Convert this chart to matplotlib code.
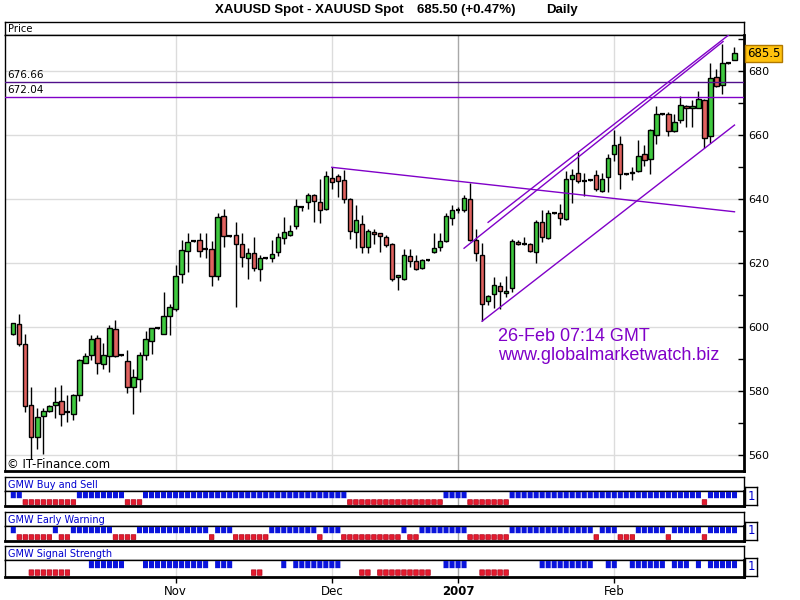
import numpy as np
import matplotlib
matplotlib.use("Agg")
import matplotlib.pyplot as plt
from matplotlib import transforms

# daily XAUUSD bars, one per trading day
opens = [597.8, 601.0, 594.8, 575.6, 565.7, 572.2, 574.0, 575.6, 577.1, 573.4,
         572.8, 578.7, 588.9, 591.3, 596.6, 588.6, 591.0, 599.4, 591.2, 589.5,
         581.5, 583.9, 591.3, 595.7, 599.7, 597.9, 603.6, 605.8, 616.8, 623.7,
         627.1, 627.4, 624.6, 624.4, 616.1, 634.7, 628.4, 628.7, 625.9, 621.6,
         623.1, 618.1, 621.6, 621.6, 623.4, 627.8, 628.7, 631.6, 637.5, 639.1,
         641.3, 639.1, 636.9, 646.6, 647.2, 645.9, 640.0, 629.7, 632.2, 625.0,
         629.7, 629.4, 628.1, 625.9, 615.6, 615.0, 622.2, 620.6, 618.4, 620.9,
         623.4, 625.0, 626.9, 634.1, 636.6, 636.6, 640.0, 627.2, 622.5, 608.1,
         610.3, 612.8, 610.6, 612.2, 626.6, 625.9, 625.9, 623.4, 632.8, 627.8,
         635.6, 635.6, 633.8, 646.2, 648.1, 645.6, 645.9, 647.5, 642.5, 646.9,
         654.1, 657.2, 647.8, 648.1, 648.7, 654.1, 652.5, 660.0, 666.6, 666.6,
         661.3, 664.7, 669.1, 668.4, 668.4, 670.9, 659.7, 678.1, 675.6, 682.5,
         683.4]
highs = [601.5, 604.1, 597.9, 581.2, 574.7, 574.7, 575.8, 581.2, 581.9, 579.0,
         579.3, 590.1, 592.0, 597.5, 597.5, 595.1, 600.7, 602.3, 591.3, 592.9,
         587.0, 592.3, 598.8, 599.7, 599.8, 611.0, 607.4, 619.4, 627.2, 629.4,
         627.3, 629.4, 629.4, 626.9, 635.6, 636.9, 628.5, 632.9, 629.4, 624.7,
         628.1, 622.5, 621.7, 627.2, 629.4, 634.4, 631.9, 640.0, 637.6, 641.9,
         641.6, 646.3, 648.8, 650.0, 647.8, 649.1, 640.3, 638.1, 635.0, 630.6,
         630.6, 629.5, 628.7, 626.2, 616.3, 624.4, 624.4, 622.5, 621.3, 621.0,
         629.4, 629.4, 635.6, 638.1, 637.5, 641.3, 645.0, 630.6, 626.2, 610.0,
         615.6, 614.1, 615.9, 627.5, 627.2, 628.1, 626.2, 633.4, 636.6, 636.6,
         635.7, 638.4, 648.8, 649.4, 654.7, 648.1, 646.0, 649.1, 648.1, 654.1,
         661.6, 659.7, 647.9, 650.0, 658.4, 656.9, 662.1, 669.1, 666.7, 667.2,
         666.6, 672.2, 669.4, 670.9, 673.8, 671.2, 682.5, 680.6, 688.4, 682.6,
         687.5]
lows = [597.5, 594.3, 573.4, 558.8, 562.1, 560.5, 573.6, 571.6, 569.1, 570.3,
        571.0, 577.1, 588.9, 589.7, 585.4, 587.0, 586.1, 590.7, 591.1, 579.6,
        572.8, 579.9, 589.8, 591.6, 599.6, 597.8, 597.6, 605.1, 613.8, 617.3,
        626.7, 622.0, 621.6, 613.0, 614.9, 625.0, 628.3, 606.2, 619.0, 615.2,
        617.7, 614.4, 621.5, 620.3, 622.2, 625.9, 628.4, 630.6, 636.2, 636.9,
        632.8, 632.5, 636.6, 643.3, 640.6, 638.7, 627.5, 624.7, 623.1, 623.1,
        626.1, 623.4, 625.2, 614.4, 611.6, 614.8, 618.7, 617.8, 618.1, 620.8,
        623.1, 623.7, 626.6, 631.9, 635.6, 635.9, 626.9, 620.6, 601.9, 606.9,
        605.9, 605.6, 609.4, 611.0, 625.6, 625.6, 623.4, 620.0, 626.6, 627.5,
        635.5, 631.9, 633.4, 638.7, 645.0, 640.9, 645.8, 642.5, 642.2, 642.2,
        651.9, 643.1, 647.7, 645.9, 648.4, 650.3, 647.8, 657.2, 666.5, 659.7,
        660.9, 664.0, 662.5, 662.5, 668.4, 655.9, 657.5, 675.0, 672.8, 682.4,
        683.4]
closes = [601.2, 594.7, 575.3, 565.7, 571.9, 573.7, 575.5, 576.7, 572.8, 573.4,
          579.0, 589.8, 591.0, 596.3, 588.9, 591.3, 599.7, 591.0, 591.2, 581.5,
          584.5, 591.3, 596.3, 599.7, 599.7, 603.6, 606.4, 616.1, 624.3, 626.8,
          627.1, 624.0, 624.6, 616.1, 634.4, 628.4, 628.4, 625.9, 621.9, 623.1,
          618.4, 621.6, 621.6, 622.8, 628.1, 629.7, 630.0, 637.8, 637.5, 641.3,
          639.4, 636.6, 647.2, 645.3, 645.6, 640.0, 630.0, 633.4, 625.0, 630.0,
          629.1, 628.4, 625.6, 615.0, 616.2, 622.5, 620.6, 618.1, 620.9, 620.9,
          624.7, 626.9, 634.7, 636.6, 636.6, 640.3, 627.2, 623.1, 607.2, 609.7,
          613.1, 611.2, 611.2, 626.9, 625.9, 625.9, 623.7, 632.8, 628.1, 635.6,
          635.6, 634.1, 646.3, 647.5, 645.6, 645.6, 645.9, 643.1, 646.2, 652.8,
          656.9, 647.8, 647.8, 648.4, 653.4, 652.2, 661.6, 666.6, 666.6, 661.3,
          664.1, 669.4, 668.4, 669.1, 671.2, 659.1, 677.8, 675.3, 682.5, 682.5,
          685.6]

month_pos = [27, 53, 74, 100]
month_labels = ["Nov", "Dec", "2007", "Feb"]
price_ticks = [560, 580, 600, 620, 640, 660, 680]
last_price = 685.5
levels = [676.66, 672.04]

# drawn trend lines: (bar, price) end points
down_line = [(53, 650.0), (120, 636.1)]
chan_low = [(78, 601.9), (120, 663.2)]
chan_up1 = [(75, 624.7), (118.1, 689.3)]
chan_up2 = [(79, 632.8), (119, 691.3)]

# indicator runs: (signal, first bar, last bar)
buy_sell = [("B", 0, 1), ("R", 2, 10), ("B", 11, 18), ("R", 19, 21), ("B", 22, 55),
            ("R", 56, 71), ("B", 72, 75), ("R", 76, 82), ("B", 83, 114), ("R", 115, 115),
            ("B", 116, 120)]
early_warn = [("B", 0, 0), ("R", 1, 6), ("B", 7, 7), ("R", 8, 9), ("B", 10, 16),
              ("R", 17, 20), ("B", 21, 32), ("R", 33, 33), ("B", 34, 36), ("R", 37, 42),
              ("B", 43, 50), ("R", 51, 51), ("B", 52, 54), ("R", 55, 64), ("B", 65, 65),
              ("R", 66, 67), ("B", 68, 75), ("R", 76, 82), ("B", 83, 96), ("R", 97, 97),
              ("B", 98, 100), ("R", 101, 103), ("B", 104, 108), ("R", 109, 109),
              ("B", 110, 114), ("R", 115, 115), ("B", 116, 120)]
sig_strength = [("R", 3, 9), ("B", 13, 18), ("B", 22, 32), ("B", 34, 36), ("R", 40, 41),
                ("B", 45, 45), ("B", 47, 54), ("R", 58, 59), ("R", 61, 69), ("B", 72, 75),
                ("R", 78, 82), ("B", 88, 96), ("B", 99, 100), ("B", 103, 108),
                ("B", 110, 112), ("B", 114, 114), ("B", 116, 120)]

PURPLE = "#8000c8"
GRID = "#dcdcdc"
W, H = 800, 600
XLIM = ((5 - 13.3) / 6.01, (744 - 13.3) / 6.01)

fig = plt.figure(figsize=(8, 6), dpi=100)


def box(x0, y0, x1, y1):
    return fig.add_axes([x0 / W, 1 - y1 / H, (x1 - x0) / W, (y1 - y0) / H])


def plain(ax):
    ax.set_xticks([])
    ax.set_yticks([])
    for s in ax.spines.values():
        s.set_linewidth(1)


def vgrid(ax):
    for p, lab in zip(month_pos, month_labels):
        ax.axvline(p, color="#a8a8a8" if lab == "2007" else GRID, lw=1, zorder=0)


tfont = dict(fontsize=9.5, fontweight="bold", family="Liberation Sans", va="center")
fig.text(215 / W, 1 - 10 / H, "XAUUSD Spot - XAUUSD Spot", **tfont)
fig.text(417 / W, 1 - 10 / H, "685.50 (+0.47%)", **tfont)
fig.text(546 / W, 1 - 10 / H, "Daily", **tfont)

hdr = box(5, 22, 744, 35)
plain(hdr)
hdr.text(0.004, 0.45, "Price", fontsize=7.2, va="center", transform=hdr.transAxes)

# price panel
ax = box(5, 35, 744, 471)
o, h, l, c = map(np.array, (opens, highs, lows, closes))
x = np.arange(len(o))
ax.set_xlim(*XLIM)
ax.set_ylim(680 - (471 - 71.3) / 3.2, 680 + (71.3 - 35) / 3.2)
for t in price_ticks:
    ax.axhline(t, color=GRID, lw=1, zorder=0)
vgrid(ax)

ax.vlines(x, l, h, color="black", lw=1, zorder=2)
up = c > o
dn = c < o
flat = c == o
ax.bar(x[up], (c - o)[up], bottom=o[up], width=0.72, color="#3fc93f", edgecolor="black", lw=1, zorder=3)
ax.bar(x[dn], (o - c)[dn], bottom=c[dn], width=0.72, color="#e0625f", edgecolor="black", lw=1, zorder=3)
ax.hlines(o[flat], x[flat] - 0.4, x[flat] + 0.4, color="black", lw=1.6, zorder=3)

ax.axhline(levels[0], color="#50108a", lw=1, zorder=4)
ax.axhline(levels[1], color=PURPLE, lw=1, zorder=4)
for lv in levels:
    ax.text(XLIM[0] + 0.3, lv + 0.7, f"{lv:.2f}", fontsize=7.5, va="bottom", ha="left")
for ln in (down_line, chan_low, chan_up1, chan_up2):
    ax.plot([ln[0][0], ln[1][0]], [ln[0][1], ln[1][1]], color=PURPLE, lw=1, zorder=4)

ax.yaxis.tick_right()
ax.set_yticks(range(560, 691, 10))
ax.set_yticklabels([str(t) if t in price_ticks else "" for t in range(560, 691, 10)])
ax.tick_params(axis="y", direction="in", length=4, width=1, labelsize=8, pad=3)
ax.set_xticks([])
ax.spines["right"].set_linewidth(2)
ax.spines["bottom"].set_linewidth(2)
ax.spines["left"].set_linewidth(1)
ax.spines["top"].set_linewidth(1)

trans = transforms.blended_transform_factory(ax.transAxes, ax.transData)
ax.text(1.004, last_price, "685.5", transform=trans, fontsize=8.5, va="center", ha="left",
        bbox=dict(boxstyle="square,pad=0.18", fc="#ffc20e", ec="#b07800", lw=1), zorder=6)

fig.text(498 / W, 1 - 336.5 / H, "26-Feb 07:14 GMT", color=PURPLE, fontsize=13,
         family="Liberation Sans", va="center")
fig.text(498 / W, 1 - 356 / H, "www.globalmarketwatch.biz", color=PURPLE, fontsize=13,
         family="Liberation Sans", va="center")
fig.text(7 / W, 1 - 464 / H, "\u00a9 IT-Finance.com", fontsize=8.5, va="center")

# indicator panels
panels = [(477, 491, 506, "GMW Buy and Sell", buy_sell),
          (512, 526, 541, "GMW Early Warning", early_warn),
          (546, 560, 577, "GMW Signal Strength", sig_strength)]
for top, mid, bot, name, runs in panels:
    hx = box(5, top, 744, mid)
    plain(hx)
    hx.text(0.004, 0.45, name, color="#0000d0", fontsize=7, va="center", transform=hx.transAxes)

    rx = box(5, mid, 744, bot)
    plain(rx)
    rx.set_xlim(*XLIM)
    rx.set_ylim(0, 1)
    vgrid(rx)
    rx.spines["right"].set_linewidth(2)
    rx.spines["bottom"].set_linewidth(2)
    for sig, a, b in runs:
        xs = np.arange(a, b + 1)
        if sig == "B":
            bars = rx.bar(xs, 0.42, bottom=0.52, width=0.84, color="#0a14dc", lw=0, zorder=3)
        else:
            bars = rx.bar(xs, 0.32, bottom=0.1, width=0.76, color="#e41b2e", edgecolor="#b00018",
                          lw=0.5, zorder=3)
        for p in bars:
            p.set_snap(False)

    sx = box(745, bot - 19, 757, bot - 1)
    plain(sx)
    sx.text(0.5, 0.5, "1", color="#0000d0", fontsize=8.5, ha="center", va="center", transform=sx.transAxes)

    if name == "GMW Signal Strength":
        rx.set_xticks(month_pos)
        rx.set_xticklabels(month_labels, fontsize=8.5)
        rx.get_xticklabels()[2].set_fontweight("bold")
        rx.tick_params(axis="x", direction="out", length=4, width=1, pad=2)

fig.savefig("out.png", dpi=100)
